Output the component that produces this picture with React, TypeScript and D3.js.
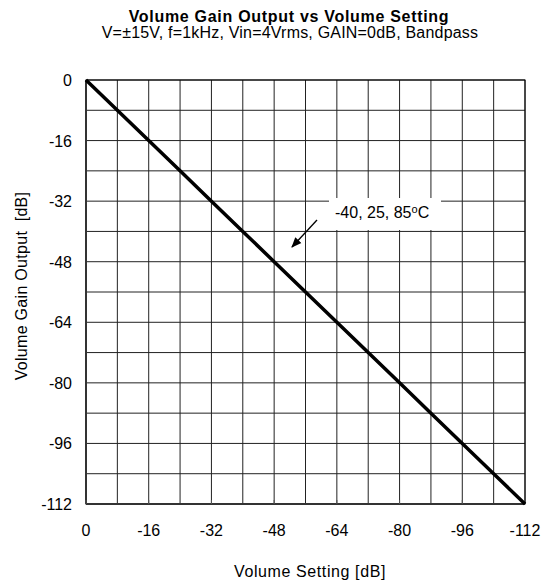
import React from "react";
import * as d3 from "d3";

const xTickValues = [0, -16, -32, -48, -64, -80, -96, -112];
const yTickValues = [0, -16, -32, -48, -64, -80, -96, -112];
const gridValues = [0, -8, -16, -24, -32, -40, -48, -56, -64, -72, -80, -88, -96, -104, -112];
const settingDb = [0, -8, -16, -24, -32, -40, -48, -56, -64, -72, -80, -88, -96, -104, -112];
const outputDb = [0, -8, -16, -24, -32, -40, -48, -56, -64, -72, -80, -88, -96, -104, -112];
const annotationText = "-40, 25, 85";

const W = 546;
const H = 587;
const left = 86;
const right = 525;
const top = 80;
const bottom = 504;
const font = "Arial, 'Liberation Sans', Helvetica, sans-serif";

export default function App() {
  const x = d3.scaleLinear().domain([0, -112]).range([left, right]);
  const y = d3.scaleLinear().domain([0, -112]).range([top, bottom]);
  const pts: [number, number][] = settingDb.map((s, i) => [s, outputDb[i]]);
  const line = d3
    .line<[number, number]>()
    .x((d) => x(d[0]))
    .y((d) => y(d[1]));

  return (
    <svg
      width={W}
      height={H}
      style={{ position: "absolute", left: 0, top: 0, display: "block", background: "#fff" }}
      fontFamily={font}
    >
      <rect x={0} y={0} width={W} height={H} fill="#fff" />
      <text x={289} y={22} textAnchor="middle" fontSize={16} fontWeight="bold" letterSpacing={0.7} fill="#000">
        Volume Gain Output vs Volume Setting
      </text>
      <text x={290} y={38} textAnchor="middle" fontSize={16} letterSpacing={0.2} fill="#000">
        V=±15V, f=1kHz, Vin=4Vrms, GAIN=0dB, Bandpass
      </text>

      {/* grid */}
      {gridValues.map((v) => (
        <line key={"gx" + v} x1={x(v)} x2={x(v)} y1={top} y2={bottom} stroke="#222" strokeWidth={1} />
      ))}
      {gridValues.map((v) => (
        <line key={"gy" + v} x1={left} x2={right} y1={y(v)} y2={y(v)} stroke="#222" strokeWidth={1} />
      ))}
      <rect x={left} y={top} width={right - left} height={bottom - top} fill="none" stroke="#000" strokeWidth={1} />
      <line x1={left} x2={right} y1={bottom} y2={bottom} stroke="#333" strokeWidth={2} />
      <line x1={left} x2={left} y1={top} y2={bottom} stroke="#333" strokeWidth={2} />
      {xTickValues.map((v) => (
        <line key={"tk" + v} x1={x(v)} x2={x(v)} y1={bottom} y2={bottom - 4} stroke="#555" strokeWidth={1} />
      ))}

      {/* annotation box */}
      <rect x={329} y={198} width={112} height={32} fill="#fff" />
      <text x={335} y={218} fontSize={16} fill="#000">
        {annotationText}
        <tspan fontSize={11} dy={-5}>o</tspan>
        <tspan dy={5}>C</tspan>
      </text>
      <defs>
        <marker id="ah" viewBox="0 0 10 10" refX={9} refY={5} markerWidth={8} markerHeight={8} orient="auto">
          <path d="M0,1 L10,5 L0,9 z" fill="#000" />
        </marker>
      </defs>
      <line x1={317} y1={220} x2={292} y2={247} stroke="#000" strokeWidth={1.3} markerEnd="url(#ah)" />

      {/* data line */}
      <path d={line(pts) || ""} fill="none" stroke="#000" strokeWidth={3.5} />

      {/* tick labels */}
      {xTickValues.map((v) => (
        <text key={"xt" + v} x={x(v)} y={536} textAnchor="middle" fontSize={16} fill="#000">
          {v}
        </text>
      ))}
      {yTickValues.map((v) => (
        <text key={"yt" + v} x={72} y={y(v) + 6} textAnchor="end" fontSize={16} fill="#000">
          {v}
        </text>
      ))}
      <text x={310} y={577} textAnchor="middle" fontSize={16} letterSpacing={0.6} fill="#000">
        Volume Setting [dB]
      </text>
      <text
        transform={`translate(27,286) rotate(-90)`}
        textAnchor="middle"
        fontSize={16}
        letterSpacing={0.3}
        fill="#000"
        style={{ whiteSpace: "pre" }}
      >
        {"Volume Gain Output  [dB]"}
      </text>
    </svg>
  );
}
